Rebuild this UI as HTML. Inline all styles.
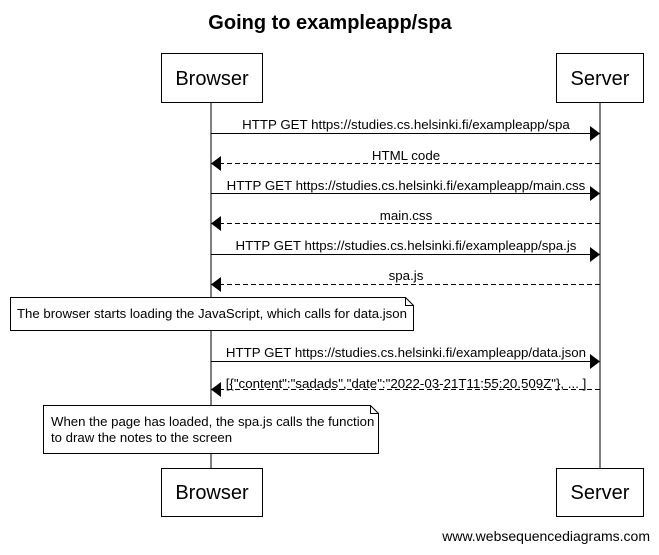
<!DOCTYPE html>
<html><head><style>body{margin:0;background:#fff}</style></head><body>
<svg width="659" height="550" xmlns="http://www.w3.org/2000/svg" font-family="Liberation Sans, Arial, sans-serif">
<rect width="659" height="550" fill="#fff"/>
<text x="330" y="29" font-size="20" font-weight="bold" text-anchor="middle">Going to exampleapp/spa</text>
<line x1="211" y1="102" x2="211" y2="468" stroke="#000"/>
<line x1="600" y1="102" x2="600" y2="468" stroke="#000"/>
<g fill="#fff" stroke="#000">
<rect x="161.5" y="53.5" width="101" height="49"/>
<rect x="556.5" y="53.5" width="87" height="49"/>
<rect x="161.5" y="468.5" width="101" height="48"/>
<rect x="556.5" y="468.5" width="87" height="48"/>
</g>
<g font-size="20" text-anchor="middle">
<text x="212" y="85">Browser</text><text x="600" y="85">Server</text>
<text x="212" y="499">Browser</text><text x="600" y="499">Server</text>
</g>
<g stroke="#000" stroke-width="1">
<line x1="211" y1="133.5" x2="592" y2="133.5"/>
<line x1="219" y1="163.5" x2="600" y2="163.5" stroke-dasharray="5,3"/>
<line x1="211" y1="193.5" x2="592" y2="193.5"/>
<line x1="219" y1="223.5" x2="600" y2="223.5" stroke-dasharray="5,3"/>
<line x1="211" y1="254.5" x2="592" y2="254.5"/>
<line x1="219" y1="284.5" x2="600" y2="284.5" stroke-dasharray="5,3"/>
<line x1="211" y1="361.5" x2="592" y2="361.5"/>
<line x1="219" y1="389.5" x2="600" y2="389.5" stroke-dasharray="5,3"/>
</g>
<g fill="#000">
<polygon points="590,126 600,133.5 590,141"/>
<polygon points="221,156 211,163.5 221,171"/>
<polygon points="590,186 600,193.5 590,201"/>
<polygon points="221,216 211,223.5 221,231"/>
<polygon points="590,247 600,254.5 590,262"/>
<polygon points="221,277 211,284.5 221,292"/>
<polygon points="590,354 600,361.5 590,369"/>
<polygon points="221,382 211,389.5 221,397"/>
</g>
<g font-size="13.3" text-anchor="middle">
<text x="406" y="129">HTTP GET https://studies.cs.helsinki.fi/exampleapp/spa</text>
<text x="406" y="160">HTML code</text>
<text x="406" y="190">HTTP GET https://studies.cs.helsinki.fi/exampleapp/main.css</text>
<text x="406" y="220">main.css</text>
<text x="406" y="250">HTTP GET https://studies.cs.helsinki.fi/exampleapp/spa.js</text>
<text x="406" y="280">spa.js</text>
<text x="406" y="357">HTTP GET https://studies.cs.helsinki.fi/exampleapp/data.json</text>
<text x="406" y="388">[{"content":"sadads","date":"2022-03-21T11:55:20.509Z"}, ... ]</text>
</g>
<g fill="#fff" stroke="#000">
<path d="M10.5 297.5 H405.5 L413.5 305.5 V330.5 H10.5 Z"/>
<path d="M405.5 297.5 V305.5 H413.5" fill="none"/>
<path d="M43.5 405.5 H370.5 L378.5 413.5 V453.5 H43.5 Z"/>
<path d="M370.5 405.5 V413.5 H378.5" fill="none"/>
</g>
<g font-size="13.2">
<text x="17" y="318">The browser starts loading the JavaScript, which calls for data.json</text>
<text x="51" y="426">When the page has loaded, the spa.js calls the function</text>
<text x="51" y="442">to draw the notes to the screen</text>
</g>
<text x="650" y="541" font-size="14" text-anchor="end">www.websequencediagrams.com</text>
</svg>
</body></html>
